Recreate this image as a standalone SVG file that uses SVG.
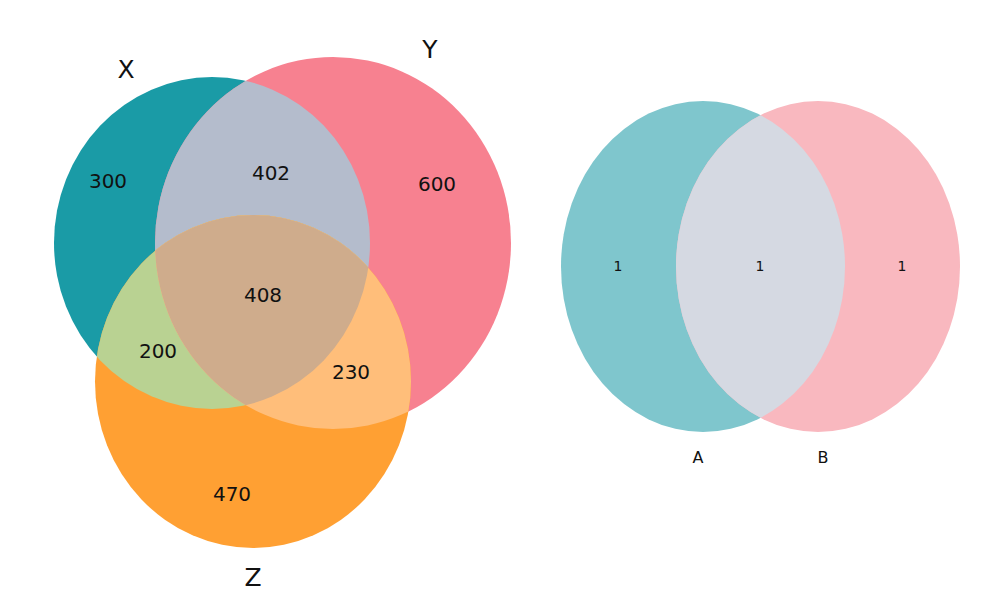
<svg xmlns="http://www.w3.org/2000/svg" width="1000" height="607" viewBox="0 0 1000 607">
<style>
text{font-family:"DejaVu Sans","Liberation Sans",sans-serif;fill:#111;text-anchor:middle}
.num{font-size:20px}
.lab{font-size:25px}
.snum{font-size:14px}
.slab{font-size:16px}
</style>
<defs>
<clipPath id="cX"><ellipse cx="212" cy="243" rx="158" ry="166"/></clipPath>
<clipPath id="cY"><ellipse cx="333" cy="243" rx="178" ry="186"/></clipPath>
<clipPath id="cA"><ellipse cx="703" cy="266.5" rx="142" ry="165.5"/></clipPath>
</defs>
<rect width="1000" height="607" fill="#fff"/>
<g id="venn3">
<g id="X"><ellipse cx="212" cy="243" rx="158" ry="166" fill="#1a9ba6"/></g>
<g id="Y"><ellipse cx="333" cy="243" rx="178" ry="186" fill="#f78190"/></g>
<g id="XY"><ellipse cx="333" cy="243" rx="178" ry="186" fill="#b4bccc" clip-path="url(#cX)"/></g>
<g id="Z"><ellipse cx="253" cy="381.5" rx="158" ry="166.5" fill="#ffa033"/></g>
<g id="XZ"><ellipse cx="253" cy="381.5" rx="158" ry="166.5" fill="#b9d292" clip-path="url(#cX)"/></g>
<g id="YZ"><ellipse cx="253" cy="381.5" rx="158" ry="166.5" fill="#ffbe7a" clip-path="url(#cY)"/></g>
<g id="XYZ" clip-path="url(#cY)"><ellipse cx="253" cy="381.5" rx="158" ry="166.5" fill="#cfac8c" clip-path="url(#cX)"/></g>
<text class="num" x="108" y="188">300</text>
<text class="num" x="271" y="180">402</text>
<text class="num" x="437" y="191">600</text>
<text class="num" x="263" y="302">408</text>
<text class="num" x="158" y="358">200</text>
<text class="num" x="351" y="379">230</text>
<text class="num" x="232" y="501">470</text>
<text class="lab" x="126" y="78">X</text>
<text class="lab" x="430" y="58">Y</text>
<text class="lab" x="253" y="586">Z</text>
</g>
<g id="venn2">
<g id="A"><ellipse cx="703" cy="266.5" rx="142" ry="165.5" fill="#7fc6cd"/></g>
<g id="B"><ellipse cx="818" cy="266.5" rx="142" ry="165.5" fill="#f9b8bf"/></g>
<g id="AB"><ellipse cx="818" cy="266.5" rx="142" ry="165.5" fill="#d5d9e2" clip-path="url(#cA)"/></g>
<text class="snum" x="618" y="271">1</text>
<text class="snum" x="760" y="271">1</text>
<text class="snum" x="902" y="271">1</text>
<text class="slab" x="698" y="463">A</text>
<text class="slab" x="823" y="463">B</text>
</g>
<g id="connectors"></g>
</svg>
